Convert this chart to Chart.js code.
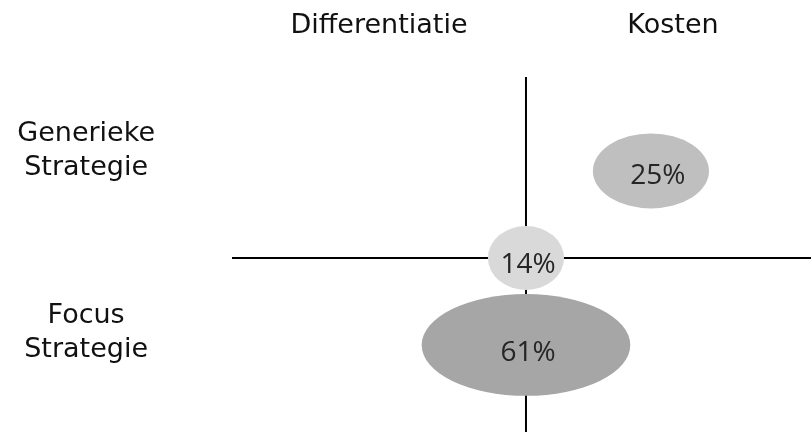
<!DOCTYPE html>
<html>
<head>
<meta charset="utf-8">
<script src="https://cdn.jsdelivr.net/npm/chart.js@4.4.1/dist/chart.umd.min.js"></script>
<style>
  html, body { margin: 0; padding: 0; background: #ffffff; overflow: hidden; }
  #wrap { width: 811px; height: 432px; }
</style>
</head>
<body>
<div id="wrap"><canvas id="c" width="811" height="432"></canvas></div>
<script>
// Column headings (strategy type) and their x positions
const strategyTypes = ['Differentiatie', 'Kosten'];
const strategyTypeX = [-1, 1];

// Row headings (strategy scope) and their y positions
const strategyScopes = [['Generieke', 'Strategie'], ['Focus', 'Strategie']];
const strategyScopeY = [1.23, -0.86];

// Share of respondents per quadrant (percent) and bubble centres
const shareValues = [25, 14, 61];
const shareX = [0.85, 0, 0];
const shareY = [1, 0, -1];

// Extent of the cross-hair axes
const axisX = [-2, 1.939];
const axisY = [-2, 2.08];

// Bubble styling
const shareColors = ['#bfbfbf', '#d9d9d9', '#a6a6a6'];
const shareAspect = [1.55, 1.19, 2.05];          // width / height of each ellipse
const shareTextShift = [[7, 3], [2, 5], [2, 6.5]];
const AREA_PER_PERCENT = 87;                       // rx * ry in px² per percent

const LABEL_FONT = '"DejaVu Sans", sans-serif';
const VALUE_FONT = '"Open Sans", sans-serif';

// Draws each bubble as an ellipse whose area follows its percentage
const ellipsePlugin = {
  id: 'shareEllipses',
  afterDatasetDraw(chart, args) {
    if (args.index !== 0) return;
    const ctx = chart.ctx;
    args.meta.data.forEach((pt, i) => {
      const v = shareValues[i];
      const r = Math.sqrt(AREA_PER_PERCENT * v);
      const a = Math.sqrt(shareAspect[i]);
      ctx.save();
      ctx.beginPath();
      ctx.ellipse(pt.x, pt.y, r * a, r / a, 0, 0, Math.PI * 2);
      ctx.fillStyle = shareColors[i];
      ctx.fill();
      const size = 28;
      ctx.font = size + 'px ' + VALUE_FONT;
      ctx.fillStyle = '#262626';
      ctx.textAlign = 'center';
      ctx.textBaseline = 'alphabetic';
      const s = shareTextShift[i];
      ctx.fillText(v + '%', pt.x + s[0], pt.y + s[1] + size * 0.357);
      ctx.restore();
    });
  }
};

function build() {
  new Chart(document.getElementById('c'), {
    type: 'scatter',
    data: {
      datasets: [
        {
          label: 'Aandeel',
          data: shareValues.map((v, i) => ({ x: shareX[i], y: shareY[i] })),
          pointRadius: 0,
          pointHoverRadius: 0,
          showLine: false
        },
        {
          label: 'Horizontale as',
          data: [{ x: axisX[0], y: 0 }, { x: axisX[1], y: 0 }],
          showLine: true,
          borderColor: '#000000',
          borderWidth: 2,
          pointRadius: 0
        },
        {
          label: 'Verticale as',
          data: [{ x: 0, y: axisY[0] }, { x: 0, y: axisY[1] }],
          showLine: true,
          borderColor: '#000000',
          borderWidth: 2,
          pointRadius: 0
        }
      ]
    },
    options: {
      responsive: false,
      animation: false,
      events: [],
      layout: { padding: 0 },
      plugins: {
        legend: { display: false },
        title: { display: false },
        tooltip: { enabled: false }
      },
      scales: {
        x: {
          type: 'linear',
          position: 'top',
          min: axisX[0],
          max: axisX[1],
          grid: { display: false, drawTicks: false },
          border: { display: false },
          afterBuildTicks: s => { s.ticks = strategyTypeX.map(v => ({ value: v })); },
          ticks: {
            autoSkip: false,
            maxRotation: 0,
            padding: 35,
            color: '#111111',
            font: { family: LABEL_FONT, size: 27, lineHeight: 1.2 },
            callback: (v, i) => strategyTypes[i]
          },
          afterFit: s => { s.height = 77; s.paddingLeft = 0; s.paddingRight = 0; }
        },
        y: {
          type: 'linear',
          position: 'left',
          min: axisY[0],
          max: axisY[1],
          grid: { display: false, drawTicks: false },
          border: { display: false },
          afterBuildTicks: s => { s.ticks = strategyScopeY.map(v => ({ value: v })); },
          ticks: {
            autoSkip: false,
            crossAlign: 'center',
            padding: 77,
            color: '#111111',
            font: { family: LABEL_FONT, size: 27, lineHeight: 1.25 },
            callback: (v, i) => strategyScopes[i]
          },
          afterFit: s => { s.width = 232; s.paddingTop = 0; s.paddingBottom = 0; }
        }
      }
    },
    plugins: [ellipsePlugin]
  });
}

const fontsReady = document.fonts && document.fonts.load
  ? Promise.all([
      document.fonts.load('27px "DejaVu Sans"'),
      document.fonts.load('28px "Open Sans"')
    ]).catch(() => {})
  : Promise.resolve();
fontsReady.then(build);
</script>
</body>
</html>
